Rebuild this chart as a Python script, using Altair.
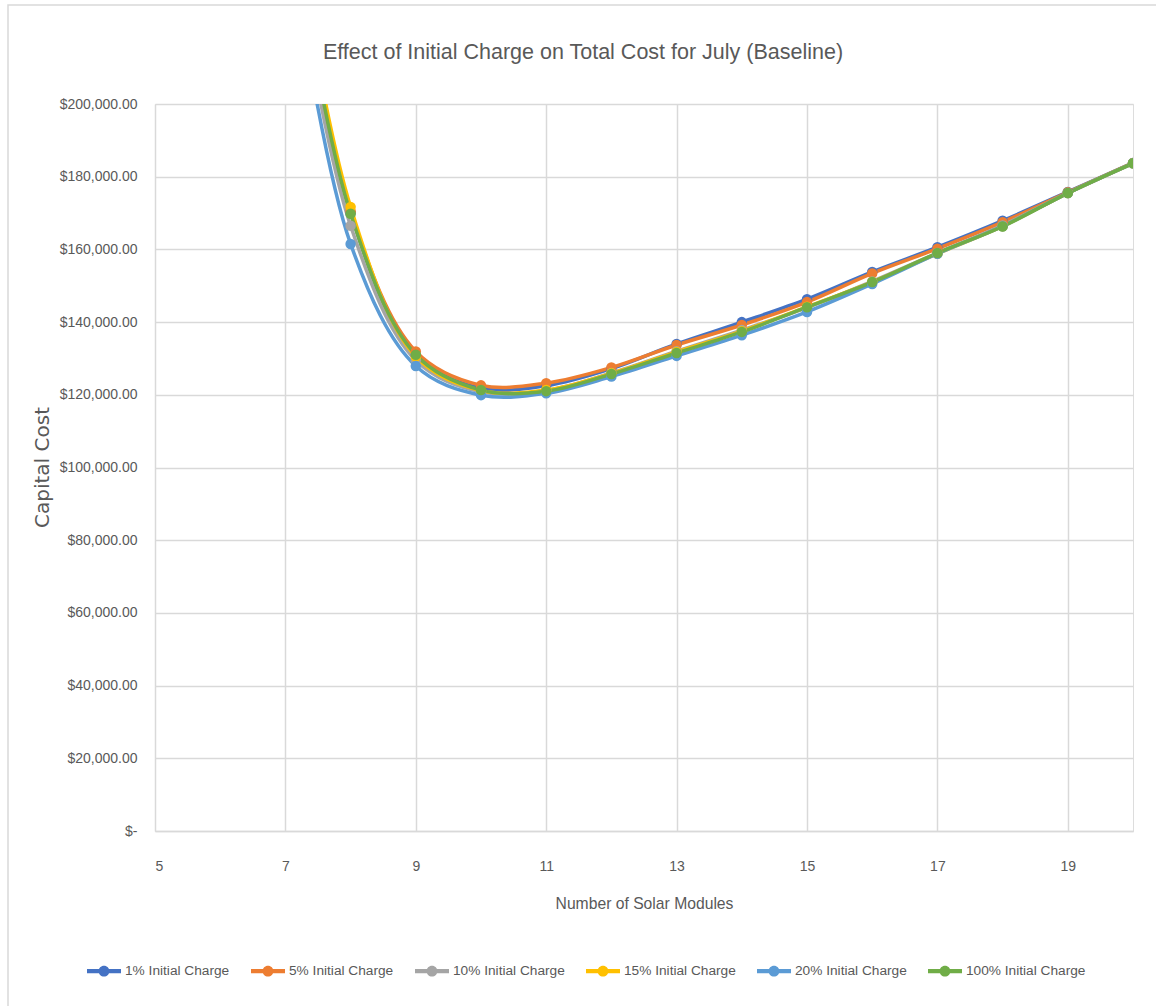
import altair as alt
import pandas as pd

# Number of solar modules evaluated
modules = [7, 8, 9, 10, 11, 12, 13, 14, 15, 16, 17, 18, 19, 20]

series_names = [
    "1% Initial Charge",
    "5% Initial Charge",
    "10% Initial Charge",
    "15% Initial Charge",
    "20% Initial Charge",
    "100% Initial Charge",
]
series_colors = ["#4472C4", "#ED7D31", "#A5A5A5", "#FFC000", "#5B9BD5", "#70AD47"]

# Total capital cost (USD) per initial state of charge
charge_1 = [258000, 170000, 130800, 121800, 122500, 127200, 134000, 140000, 146300, 153800, 160600, 167900, 175800, 183800]
charge_5 = [259000, 170500, 131900, 122600, 123200, 127500, 133700, 139200, 145500, 153400, 160200, 167500, 175700, 183800]
charge_10 = [255000, 166500, 129500, 120800, 121200, 126000, 132000, 137800, 144000, 151200, 159000, 166600, 175500, 183700]
charge_15 = [262000, 171700, 130500, 121200, 121300, 125900, 131800, 137500, 144200, 151000, 158800, 166400, 175500, 183700]
charge_20 = [252000, 161500, 127900, 119900, 120400, 125000, 130700, 136400, 142800, 150500, 158800, 166400, 175500, 183700]
charge_100 = [260000, 169800, 131000, 121300, 121000, 125700, 131500, 137300, 144100, 151000, 159000, 166300, 175500, 183700]

x_ticks = [5, 7, 9, 11, 13, 15, 17, 19]
y_ticks = list(range(0, 200001, 20000))

chart_title = "Effect of Initial Charge on Total Cost for July (Baseline)"

rows = []
for i, (name, vals) in enumerate(zip(series_names, [charge_1, charge_5, charge_10, charge_15, charge_20, charge_100])):
    for m, v in zip(modules, vals):
        rows.append({"modules": m, "cost": v, "series": name, "order": i})
df = pd.DataFrame(rows)

TEXT = "#595959"
GRID = "#D9D9D9"
SANS = "Liberation Sans, Arial, sans-serif"

x_enc = alt.X(
    "modules:Q",
    scale=alt.Scale(domain=[5, 20], nice=False, zero=False),
    axis=alt.Axis(
        values=x_ticks,
        title="Number of Solar Modules",
        titleFont=SANS,
        titleFontSize=15.7,
        titleFontWeight="normal",
        titleColor=TEXT,
        titleY=72,
        titleBaseline="middle",
        labelFont=SANS,
        labelFontSize=14,
        labelColor=TEXT,
        labelPadding=28,
        tickSize=0,
        domain=True,
        domainColor=GRID,
        domainWidth=1.5,
        grid=True,
        gridColor=GRID,
        gridWidth=1.5,
    ),
)
y_enc = alt.Y(
    "cost:Q",
    scale=alt.Scale(domain=[0, 200000], nice=False),
    axis=alt.Axis(
        values=y_ticks,
        # accounting-style zero shown as "$-", indented with non-breaking spaces
        labelExpr="datum.value == 0 ? '$-\u00a0\u00a0' : '$' + format(datum.value, ',.2f')",
        title="Capital Cost",
        titleFont="DejaVu Sans, sans-serif",
        titleFontSize=20,
        titleFontWeight="normal",
        titleColor=TEXT,
        titleX=-113,
        titleY=363,
        titleAlign="center",
        titleBaseline="middle",
        labelFont=SANS,
        labelFontSize=14,
        labelColor=TEXT,
        labelPadding=18,
        tickSize=0,
        domain=False,
        grid=True,
        gridColor=GRID,
        gridWidth=1.5,
    ),
)

# Legend symbol: a short bar with a dot in the middle
legend_symbol = (
    "M-1,-0.12H1V0.12H-1Z "
    "M0.32,0A0.32,0.32 0 1,1 -0.32,0A0.32,0.32 0 1,1 0.32,0Z"
)

color_enc = alt.Color(
    "series:N",
    scale=alt.Scale(domain=series_names, range=series_colors),
    legend=alt.Legend(
        title=None,
        orient="none",
        direction="horizontal",
        columns=6,
        legendX=-68,
        legendY=850,
        symbolType=legend_symbol,
        symbolSize=1156,
        symbolStrokeWidth=0,
        symbolOpacity=1,
        labelFont=SANS,
        labelFontSize=13.7,
        labelColor=TEXT,
        labelOffset=4,
        columnPadding=21,
        padding=0,
        labelLimit=300,
    ),
)

base = alt.Chart(df)

lines = base.mark_line(interpolate="catmull-rom", strokeWidth=3.5, clip=True).encode(
    x=x_enc, y=y_enc, color=color_enc, order="order:Q"
)
points = base.mark_point(filled=True, size=110, opacity=1, clip=True).encode(
    x=x_enc, y=y_enc, color=color_enc
)

single = pd.DataFrame({"label": [chart_title]})

# Outer chart frame
frame = alt.Chart(single).mark_rect(
    fill=None, stroke=GRID, strokeWidth=1.5
).encode(
    x=alt.value(-147), x2=alt.value(1003), y=alt.value(-99), y2=alt.value(904)
)

# Chart heading
heading = alt.Chart(single).mark_text(
    font=SANS, fontSize=21.5, color=TEXT, align="center", baseline="middle"
).encode(
    text="label:N", x=alt.value(428), y=alt.value(-51)
)

chart = (
    alt.layer(frame, heading, lines, points)
    .properties(
        width=978,
        height=727,
        autosize=alt.AutoSizeParams(type="none"),
        padding={"left": 155, "top": 104, "right": 23, "bottom": 175},
    )
    .configure_view(stroke=None)
    .configure(background="white")
)

chart.save("out.html", embed_options={"renderer": "svg", "actions": False})
